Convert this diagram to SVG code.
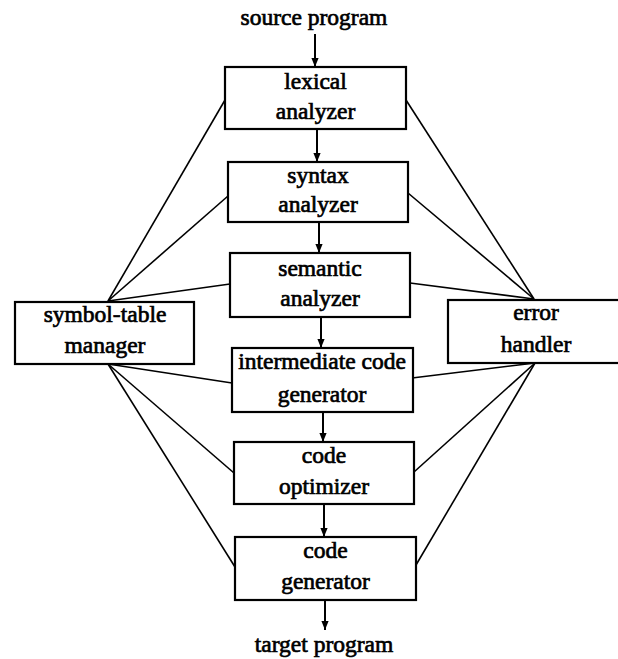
<svg xmlns="http://www.w3.org/2000/svg" width="618" height="659" viewBox="0 0 618 659">
  <style>
    .box { fill: #fff; stroke: #000; stroke-width: 2.2; }
    .lbl { font-family: "Liberation Serif", "Times New Roman", serif; font-size: 23.5px; fill: #000; stroke: #000; stroke-width: 0.7; text-anchor: middle; }
    .link { stroke: #000; stroke-width: 1.6; fill: none; }
    .flow { stroke: #000; stroke-width: 2; fill: none; marker-end: url(#head); }
  </style>
  <defs>
    <marker id="head" viewBox="0 0 10 10" refX="10" refY="5" markerWidth="9" markerHeight="11" markerUnits="userSpaceOnUse" orient="auto">
      <path d="M0,1 L10,5 L0,9 Z" fill="#000"/>
    </marker>
  </defs>
  <rect width="618" height="659" fill="#fff"/>

  <!-- connectors -->
  <g id="connectors">
    <!-- main pipeline flow -->
    <line class="flow" x1="315" y1="34" x2="315" y2="67"/>
    <line class="flow" x1="317" y1="129" x2="317" y2="162"/>
    <line class="flow" x1="319" y1="222" x2="319" y2="253"/>
    <line class="flow" x1="321" y1="317" x2="321" y2="348"/>
    <line class="flow" x1="323" y1="412" x2="323" y2="442"/>
    <line class="flow" x1="324" y1="504" x2="324" y2="537"/>
    <line class="flow" x1="325" y1="600" x2="325" y2="630"/>
    <!-- symbol-table manager links -->
    <line class="link" x1="108" y1="301" x2="225" y2="100"/>
    <line class="link" x1="108" y1="301" x2="228" y2="196"/>
    <line class="link" x1="108" y1="301" x2="230" y2="284"/>
    <line class="link" x1="108" y1="364" x2="232" y2="383"/>
    <line class="link" x1="108" y1="364" x2="234" y2="473"/>
    <line class="link" x1="108" y1="364" x2="235" y2="567"/>
    <!-- error handler links -->
    <line class="link" x1="534" y1="299" x2="406" y2="100"/>
    <line class="link" x1="534" y1="299" x2="408" y2="193"/>
    <line class="link" x1="534" y1="299" x2="410" y2="283"/>
    <line class="link" x1="535" y1="363" x2="412" y2="378"/>
    <line class="link" x1="535" y1="363" x2="414" y2="472"/>
    <line class="link" x1="535" y1="363" x2="416" y2="565"/>
  </g>

  <text class="lbl" x="314" y="25">source program</text>

  <g id="lexical">
    <rect class="box" x="225" y="67" width="181" height="62"/>
    <text class="lbl" x="315.5" y="89">lexical</text>
    <text class="lbl" x="315.5" y="119">analyzer</text>
  </g>

  <g id="syntax">
    <rect class="box" x="228" y="162" width="180" height="60"/>
    <text class="lbl" x="318" y="183">syntax</text>
    <text class="lbl" x="318" y="212">analyzer</text>
  </g>

  <g id="semantic">
    <rect class="box" x="230" y="253" width="180" height="64"/>
    <text class="lbl" x="320" y="276">semantic</text>
    <text class="lbl" x="320" y="306">analyzer</text>
  </g>

  <g id="intermediate">
    <rect class="box" x="232" y="348" width="181" height="64"/>
    <text class="lbl" x="322" y="369">intermediate code</text>
    <text class="lbl" x="322" y="402">generator</text>
  </g>

  <g id="optimizer">
    <rect class="box" x="234" y="442" width="180" height="62"/>
    <text class="lbl" x="324" y="463">code</text>
    <text class="lbl" x="324" y="494">optimizer</text>
  </g>

  <g id="codegen">
    <rect class="box" x="235" y="537" width="181" height="63"/>
    <text class="lbl" x="325.5" y="558">code</text>
    <text class="lbl" x="325.5" y="589">generator</text>
  </g>

  <g id="symtab">
    <rect class="box" x="15" y="302" width="179" height="62"/>
    <text class="lbl" x="105" y="322">symbol-table</text>
    <text class="lbl" x="105" y="353">manager</text>
  </g>

  <g id="errors">
    <rect class="box" x="448" y="300" width="180" height="63"/>
    <text class="lbl" x="536" y="320">error</text>
    <text class="lbl" x="536" y="352">handler</text>
  </g>

  <text class="lbl" x="324" y="652">target program</text>
</svg>
